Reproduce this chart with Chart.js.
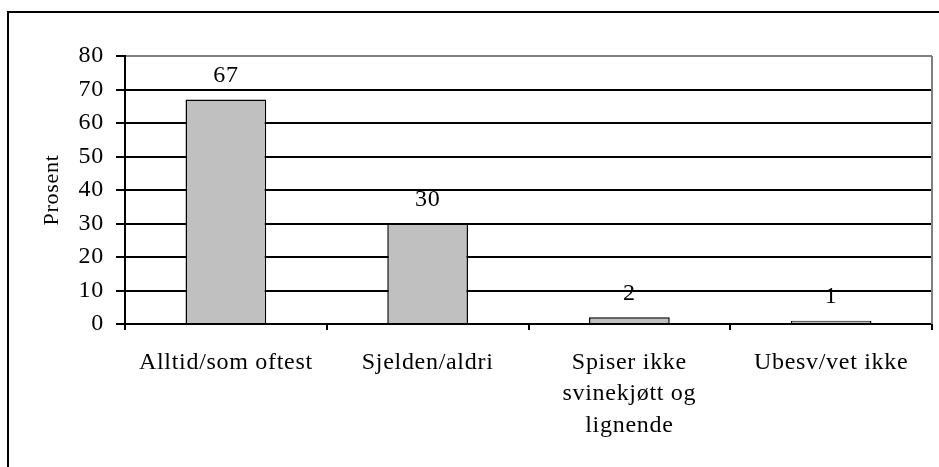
<!DOCTYPE html>
<html>
<head>
<meta charset="utf-8">
<script src="https://cdn.jsdelivr.net/npm/chart.js@4"></script>
<style>
  html, body { margin: 0; padding: 0; background: #fff; }
  #wrap { width: 939px; height: 467px; }
</style>
</head>
<body>
<div id="wrap"><canvas id="chart" width="939" height="467"></canvas></div>
<script>
// data
const categories = ['Alltid/som oftest', 'Sjelden/aldri', ['Spiser ikke', 'svinekjøtt og', 'lignende'], 'Ubesv/vet ikke'];
const values = [67, 30, 2, 1];
const yTicks = [0, 10, 20, 30, 40, 50, 60, 70, 80];

const serif = 'Liberation Serif, Times New Roman, serif';

// the original text is set a little wide
const spacing = {
  id: 'spacing',
  beforeUpdate(chart) { chart.ctx.letterSpacing = '0.7px'; },
  beforeDraw(chart) { chart.ctx.letterSpacing = '0.7px'; }
};

// outer frame (only left and top edge visible in the picture)
const frame = {
  id: 'frame',
  beforeDraw(chart) {
    const c = chart.ctx;
    c.save();
    c.fillStyle = '#fff';
    c.fillRect(0, 0, chart.width, chart.height);
    c.strokeStyle = '#000';
    c.lineWidth = 2;
    c.beginPath();
    c.moveTo(8, chart.height + 2);
    c.lineTo(8, 12);
    c.lineTo(chart.width + 2, 12);
    c.stroke();
    c.restore();
  },
  afterDraw(chart) {
    // grey right edge of the plot area
    const a = chart.chartArea;
    const c = chart.ctx;
    c.save();
    c.strokeStyle = '#808080';
    c.lineWidth = 2;
    c.beginPath();
    c.moveTo(a.right, a.top);
    c.lineTo(a.right, a.bottom);
    c.stroke();
    c.restore();
  }
};

// value labels above the bars
const valueLabels = {
  id: 'valueLabels',
  afterDatasetsDraw(chart) {
    const c = chart.ctx;
    const meta = chart.getDatasetMeta(0);
    c.save();
    c.font = '24px ' + serif;
    c.fillStyle = '#000';
    c.textAlign = 'center';
    c.textBaseline = 'middle';
    meta.data.forEach((bar, i) => {
      c.fillText(String(values[i]), bar.x, bar.y - 24);
    });
    c.restore();
  }
};

new Chart(document.getElementById('chart'), {
  type: 'bar',
  data: {
    labels: categories,
    datasets: [{
      data: values,
      backgroundColor: '#c0c0c0',
      borderColor: '#000',
      borderWidth: 1.5,
      borderSkipped: 'bottom',
      categoryPercentage: 1,
      barPercentage: 0.4
    }]
  },
  options: {
    responsive: false,
    animation: false,
    layout: { padding: { top: 56, right: 7, left: 0, bottom: 0 } },
    plugins: {
      legend: { display: false },
      tooltip: { enabled: false }
    },
    scales: {
      x: {
        afterFit: s => { s.height = 143; },
        grid: {
          offset: true,
          drawOnChartArea: false,
          drawTicks: true,
          tickLength: 6,
          color: '#000',
          lineWidth: 2
        },
        border: { color: '#000', width: 2 },
        ticks: {
          color: '#000',
          padding: 17,
          maxRotation: 0,
          autoSkip: false,
          font: { family: serif, size: 24, lineHeight: 1.31 }
        }
      },
      y: {
        min: 0,
        max: 80,
        afterFit: s => { s.width = 125; },
        afterBuildTicks: s => { s.ticks = yTicks.map(v => ({ value: v })); },
        grid: {
          color: ctx => (ctx.tick && ctx.tick.value === 80 ? '#808080' : '#000'),
          lineWidth: 2,
          tickLength: 9,
          tickColor: '#000'
        },
        border: { color: '#000', width: 2 },
        ticks: {
          color: '#000',
          padding: 12,
          font: { family: serif, size: 24 }
        },
        title: {
          display: true,
          text: 'Prosent',
          color: '#000',
          padding: { top: 39, bottom: 0 },
          font: { family: serif, size: 22 }
        }
      }
    }
  },
  plugins: [spacing, frame, valueLabels]
});
</script>
</body>
</html>
